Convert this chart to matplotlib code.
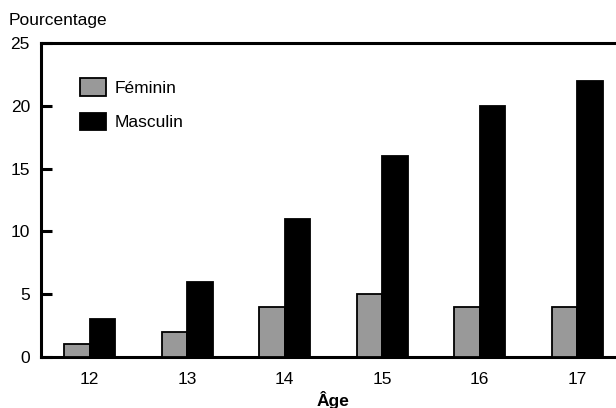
import matplotlib.pyplot as plt
import numpy as np

plt.rcParams['font.family'] = ['Liberation Sans', 'DejaVu Sans']

ages = ['12', '13', '14', '15', '16', '17']
feminin = [1, 2, 4, 5, 4, 4]
masculin = [3, 6, 11, 16, 20, 22]
y_ticks = [0, 5, 10, 15, 20, 25]

fig = plt.figure(figsize=(6.16, 4.08), dpi=100)
# axes run past the right edge, the original is cropped there
ax = fig.add_axes([41 / 616, 1 - 357 / 408, 585 / 616, 314 / 408])

x = np.arange(len(ages)) + 0.5
w = 0.26
ax.bar(x - w / 2, feminin, w, color='#999999', edgecolor='black', linewidth=1.3,
       label='Féminin', zorder=3)
ax.bar(x + w / 2, masculin, w, color='black', edgecolor='black', linewidth=1.3,
       label='Masculin', zorder=3)

ax.set_xlim(0, len(ages))
ax.set_ylim(0, 25)
ax.set_yticks(y_ticks)
ax.set_xticks(x)
ax.set_xticklabels(ages)
ax.tick_params(axis='y', direction='in', length=8, width=2.2, labelsize=12.5, pad=8)
ax.tick_params(axis='x', length=0, labelsize=12.5, pad=11)

for side in ['left', 'bottom', 'top', 'right']:
    ax.spines[side].set_linewidth(2.2)

ax.set_xlabel('Âge', fontsize=12.5, fontweight='bold', labelpad=3)
fig.text(9 / 616, 1 - 21 / 408, 'Pourcentage', fontsize=12.5, va='center', ha='left')

ax.legend(loc='upper left', bbox_to_anchor=(0.066, 0.887), frameon=False, fontsize=12.5,
          borderpad=0, borderaxespad=0,
          handlelength=1.5, handleheight=1.15, handletextpad=0.5, labelspacing=0.98)

fig.savefig('out.png', dpi=100)
